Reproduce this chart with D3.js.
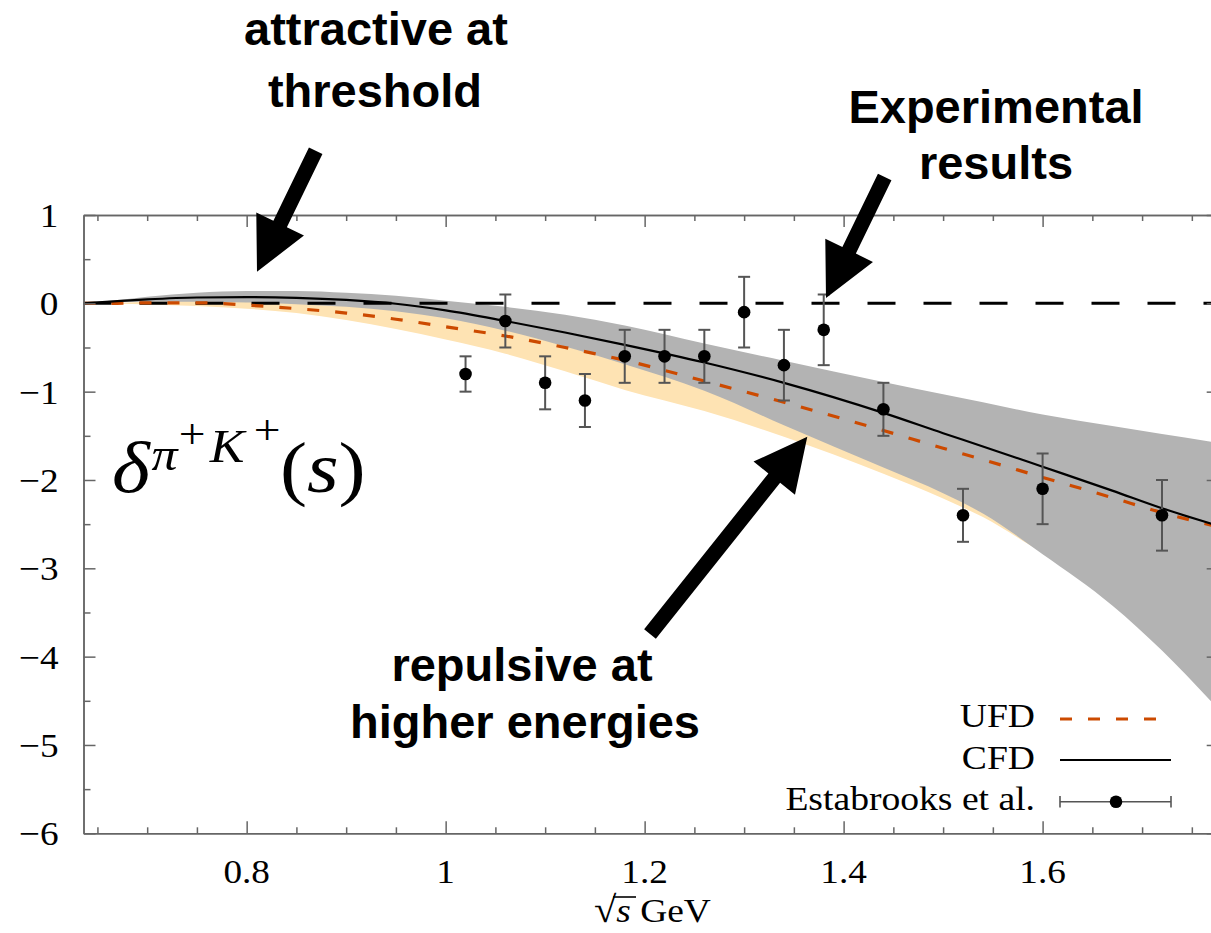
<!DOCTYPE html>
<html>
<head>
<meta charset="utf-8">
<script src="https://cdn.jsdelivr.net/npm/d3@7"></script>
<style>
  html, body { margin: 0; padding: 0; background: #fff; }
  svg { display: block; }
</style>
</head>
<body>
<svg id="chart" width="1211" height="933"></svg>
<script>
// ---- phase shift δ(π+K+) vs sqrt(s) [GeV] ----
const sqrtS  = [0.636, 0.67, 0.70, 0.75, 0.80, 0.85, 0.90, 0.95, 1.00, 1.06, 1.12, 1.18, 1.26, 1.34, 1.44, 1.50, 1.54, 1.60, 1.67, 1.72, 1.777];

// constrained fit (CFD): central value and uncertainty band
const cfd    = [0, 0.026, 0.045, 0.066, 0.070, 0.062, 0.038, -0.005, -0.08, -0.20, -0.33, -0.47, -0.67, -0.90, -1.24, -1.47, -1.62, -1.85, -2.12, -2.32, -2.52];
const cfdHi  = [0, 0.037, 0.075, 0.12, 0.14, 0.14, 0.12, 0.085, 0.03, -0.04, -0.13, -0.25, -0.455, -0.65, -0.89, -1.03, -1.12, -1.26, -1.39, -1.48, -1.58];
const cfdLo  = [0, 0.012, 0.018, 0.018, 0.008, -0.01, -0.04, -0.09, -0.17, -0.31, -0.49, -0.69, -0.99, -1.38, -1.86, -2.15, -2.38, -2.84, -3.42, -3.93, -4.60];

// unconstrained fit (UFD): central value and uncertainty band
const ufd    = [0, 0.0, 0.006, 0.006, -0.02, -0.06, -0.11, -0.18, -0.265, -0.37, -0.50, -0.645, -0.88, -1.12, -1.44, -1.64, -1.77, -1.97, -2.20, -2.37, -2.53];
const ufdHi  = [0, 0.005, 0.02, 0.03, 0.02, 0.0, -0.03, -0.07, -0.12, -0.18, -0.25, -0.32, -0.55, -0.75, -0.98, -1.10, -1.20, -1.30, -1.45, -1.55, -1.66];
const ufdLo  = [0, -0.005, -0.012, -0.03, -0.06, -0.11, -0.19, -0.29, -0.41, -0.57, -0.77, -0.98, -1.22, -1.51, -1.93, -2.21, -2.42, -2.82, -3.20, -3.50, -3.85];

// Estabrooks et al. data
const expX   = [1.02, 1.06, 1.10, 1.14, 1.18, 1.22, 1.26, 1.30, 1.34, 1.38, 1.44, 1.52, 1.60, 1.72];
const expY   = [-0.8, -0.2, -0.9, -1.1, -0.6, -0.6, -0.6, -0.1, -0.7, -0.3, -1.2, -2.4, -2.1, -2.4];
const expErr = [0.2, 0.3, 0.3, 0.3, 0.3, 0.3, 0.3, 0.4, 0.4, 0.4, 0.3, 0.3, 0.4, 0.4];

// axis ticks
const xTicks = [0.8, 1, 1.2, 1.4, 1.6];
const xTickLabels = ["0.8", "1", "1.2", "1.4", "1.6"];
const yTicks = [1, 0, -1, -2, -3, -4, -5, -6];
const yTickLabels = ["1", "0", "\u22121", "\u22122", "\u22123", "\u22124", "\u22125", "\u22126"];

// legend entries
const legendLabels = ["UFD", "CFD", "Estabrooks et al."];

// ---------------------------------------------------------------
const W = 1211, H = 933;
const svg = d3.select("#chart");
svg.append("rect").attr("width", W).attr("height", H).attr("fill", "#fff");

const x = d3.scaleLinear().domain([0.636, 1.777]).range([83.5, 1218.7]);
const y = d3.scaleLinear().domain([-6, 1]).range([833.3, 215]);
const [X0, X1] = x.range();
const [Y0, Y1] = [y.range()[1], y.range()[0]];

const SERIF = "'Liberation Serif', 'Times New Roman', serif";
const SANS = "'Liberation Sans', Arial, sans-serif";
const AXIS = "#666";

svg.append("defs").append("clipPath").attr("id", "plotArea")
  .append("rect").attr("x", X0).attr("y", Y0).attr("width", X1 - X0).attr("height", Y1 - Y0);

const plot = svg.append("g").attr("clip-path", "url(#plotArea)");
const idx = d3.range(sqrtS.length);
const band = (lo, hi) => d3.area()
  .x(i => x(sqrtS[i])).y0(i => y(lo[i])).y1(i => y(hi[i]))
  .curve(d3.curveMonotoneX);
const curve = vals => d3.line()
  .x(i => x(sqrtS[i])).y(i => y(vals[i]))
  .curve(d3.curveMonotoneX);

// bands
plot.append("path").attr("d", band(ufdLo, ufdHi)(idx)).attr("fill", "#fee3b3");
plot.append("path").attr("d", band(cfdLo, cfdHi)(idx)).attr("fill", "#b3b3b3");

// zero reference line
plot.append("line")
  .attr("x1", X0).attr("x2", X1).attr("y1", y(0)).attr("y2", y(0))
  .attr("stroke", "#000").attr("stroke-width", 3).attr("stroke-dasharray", "28,28");

// central curves
plot.append("path").attr("d", curve(ufd)(idx))
  .attr("fill", "none").attr("stroke", "#cc4a00").attr("stroke-width", 3.2)
  .attr("stroke-dasharray", "12,16");
plot.append("path").attr("d", curve(cfd)(idx))
  .attr("fill", "none").attr("stroke", "#000").attr("stroke-width", 2.2);

// experimental points with error bars
const pts = expX.map((v, i) => ({ x: v, y: expY[i], e: expErr[i] }));
const pg = plot.append("g").selectAll("g").data(pts).join("g");
pg.append("line")
  .attr("x1", d => x(d.x)).attr("x2", d => x(d.x))
  .attr("y1", d => y(d.y + d.e)).attr("y2", d => y(d.y - d.e))
  .attr("stroke", "#555").attr("stroke-width", 2);
[1, -1].forEach(s => {
  pg.append("line")
    .attr("x1", d => x(d.x) - 6).attr("x2", d => x(d.x) + 6)
    .attr("y1", d => y(d.y + s * d.e)).attr("y2", d => y(d.y + s * d.e))
    .attr("stroke", "#555").attr("stroke-width", 2);
});
pg.append("circle").attr("cx", d => x(d.x)).attr("cy", d => y(d.y)).attr("r", 6.3).attr("fill", "#000");

// ---- frame, ticks pointing inward ----
const xMinor = d3.range(0.65, 1.776, 0.05).filter(v => !xTicks.some(t => Math.abs(t - v) < 1e-6));
const yMinor = d3.range(-5.5, 1, 1);
function styleAxis(g) {
  g.selectAll("path, line").attr("stroke", AXIS).attr("stroke-width", 1.5);
  g.selectAll("text").remove();
}
const axes = svg.append("g");
[[d3.axisBottom, Y1], [d3.axisTop, Y0]].forEach(([fn, yy]) => {
  axes.append("g").attr("transform", `translate(0,${yy})`)
    .call(fn(x).tickValues(xTicks).tickSize(-12).tickSizeOuter(0).tickFormat(""))
    .call(styleAxis);
  axes.append("g").attr("transform", `translate(0,${yy})`)
    .call(fn(x).tickValues(xMinor).tickSize(-6).tickSizeOuter(0).tickFormat(""))
    .call(styleAxis);
});
[[d3.axisLeft, X0], [d3.axisRight, X1]].forEach(([fn, xx]) => {
  axes.append("g").attr("transform", `translate(${xx},0)`)
    .call(fn(y).tickValues(yTicks).tickSize(-12).tickSizeOuter(0).tickFormat(""))
    .call(styleAxis);
  axes.append("g").attr("transform", `translate(${xx},0)`)
    .call(fn(y).tickValues(yMinor).tickSize(-7).tickSizeOuter(0).tickFormat(""))
    .call(styleAxis);
});

// serif text, optionally widened horizontally
function serifText(parent, px, py, anchor, size, stretch) {
  return parent.append("g")
    .attr("transform", `translate(${px},${py}) scale(${stretch},1)`)
    .append("text")
    .attr("text-anchor", anchor)
    .attr("font-family", SERIF)
    .attr("font-size", size)
    .attr("fill", "#000");
}

// tick labels
yTicks.forEach((v, i) => serifText(svg, 58.5, y(v) + 12, "end", 34.5, 1.08).text(yTickLabels[i]));
xTicks.forEach((v, i) => serifText(svg, x(v), 883, "middle", 34.5, 1.08).text(xTickLabels[i]));

// x axis title: sqrt(s) GeV
const xt = serifText(svg, 594, 922, "start", 34, 1.1);
xt.append("tspan").attr("font-size", 37).text("\u221A");
xt.append("tspan").attr("font-style", "italic").text("s");
xt.append("tspan").text(" GeV");
svg.append("line").attr("x1", 613).attr("x2", 636).attr("y1", 897).attr("y2", 897)
  .attr("stroke", "#000").attr("stroke-width", 1.6);

// quantity label δ^{π+K+}(s)
const ql = svg.append("g").attr("transform", "translate(112,492) scale(1.13,1)");
const qt = (lx, ly, size, italic, str) => ql.append("text")
  .attr("x", lx).attr("y", ly).attr("font-family", SERIF).attr("font-size", size)
  .attr("font-style", italic ? "italic" : "normal").attr("fill", "#000").text(str);
qt(0, 0, 72, true, "\u03B4");
qt(35, -22, 46, true, "\u03C0");
qt(59, -44, 42, false, "+");
qt(86.5, -30, 46, true, "K");
qt(125.5, -48, 42, false, "+");
qt(148.7, 0, 72, false, "(");
qt(172.5, 0, 72, true, "s");
qt(200.5, 0, 72, false, ")");

// ---- legend ----
const legY = [727, 768.5, 810];
legendLabels.forEach((t, i) => serifText(svg, 1035, legY[i], "end", 33, 1.14).text(t));
svg.append("line").attr("x1", 1060).attr("x2", 1157).attr("y1", 719).attr("y2", 719)
  .attr("stroke", "#cc4a00").attr("stroke-width", 3.2).attr("stroke-dasharray", "12,16");
svg.append("line").attr("x1", 1060).attr("x2", 1171).attr("y1", 760).attr("y2", 760)
  .attr("stroke", "#000").attr("stroke-width", 2.2);
svg.append("line").attr("x1", 1060).attr("x2", 1171).attr("y1", 801.7).attr("y2", 801.7)
  .attr("stroke", "#555").attr("stroke-width", 1.6);
[1060, 1171].forEach(cx => svg.append("line").attr("x1", cx).attr("x2", cx)
  .attr("y1", 796).attr("y2", 807.5).attr("stroke", "#555").attr("stroke-width", 1.6));
svg.append("circle").attr("cx", 1116).attr("cy", 801.7).attr("r", 6.3).attr("fill", "#000");

// ---- annotations ----
function arrowPoints(tail, tip, shaftW, headL, headW) {
  const dx = tip[0] - tail[0], dy = tip[1] - tail[1], L = Math.hypot(dx, dy);
  const ux = dx / L, uy = dy / L, px = -uy, py = ux;
  const bx = tip[0] - ux * headL, by = tip[1] - uy * headL;
  return [
    [tail[0] + px * shaftW / 2, tail[1] + py * shaftW / 2],
    [bx + px * shaftW / 2, by + py * shaftW / 2],
    [bx + px * headW / 2, by + py * headW / 2],
    tip,
    [bx - px * headW / 2, by - py * headW / 2],
    [bx - px * shaftW / 2, by - py * shaftW / 2],
    [tail[0] - px * shaftW / 2, tail[1] - py * shaftW / 2]
  ];
}
const arrows = [
  { tail: [315.7, 150.7], tip: [257, 271.7] },
  { tail: [884.7, 177], tip: [826, 298] },
  { tail: [650, 634], tip: [807.3, 436.7] }
];
svg.append("g").selectAll("polygon").data(arrows).join("polygon")
  .attr("points", d => arrowPoints(d.tail, d.tip, 15, 53, 53).map(p => p.join(",")).join(" "))
  .attr("fill", "#000");

const notes = [
  { t: "attractive at", x: 376, y: 45 },
  { t: "threshold", x: 375, y: 106.7 },
  { t: "Experimental", x: 996, y: 123 },
  { t: "results", x: 996, y: 179 },
  { t: "repulsive at", x: 522, y: 681 },
  { t: "higher energies", x: 525, y: 738 }
];
svg.append("g").selectAll("text").data(notes).join("text")
  .attr("x", d => d.x).attr("y", d => d.y)
  .attr("text-anchor", "middle")
  .attr("font-family", SANS).attr("font-weight", "bold").attr("font-size", 47)
  .attr("fill", "#000")
  .text(d => d.t);
</script>
</body>
</html>
